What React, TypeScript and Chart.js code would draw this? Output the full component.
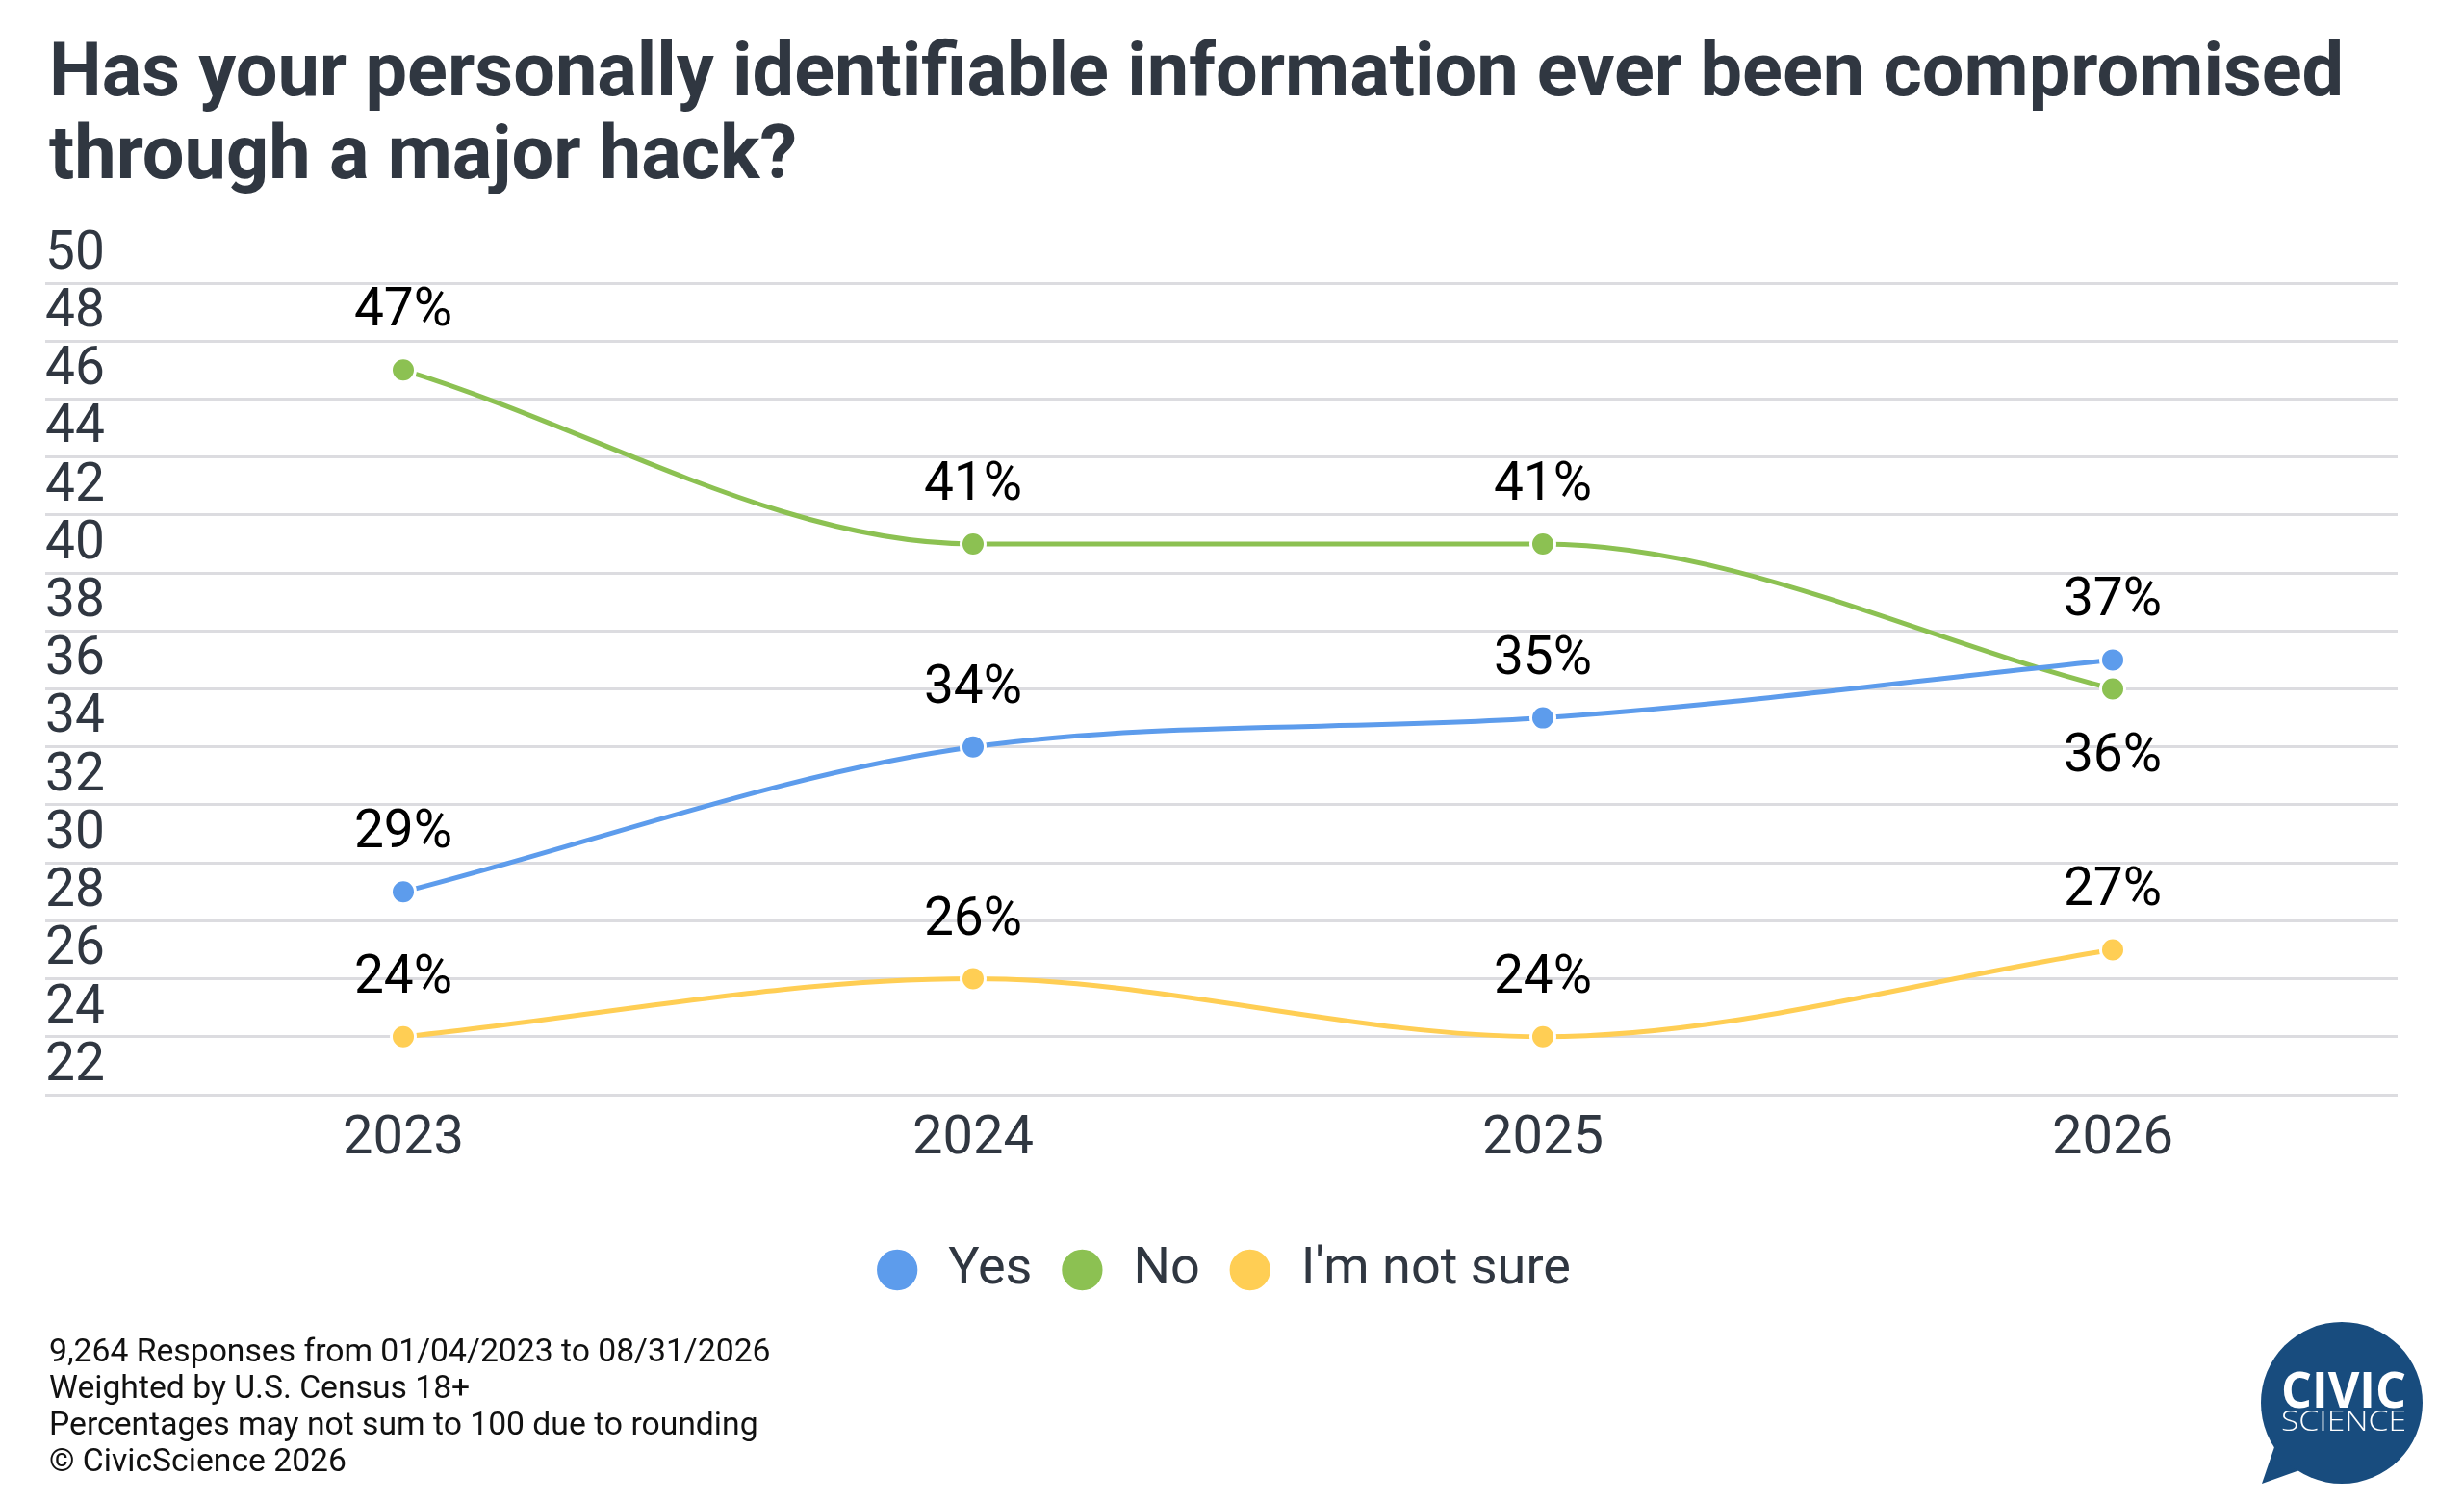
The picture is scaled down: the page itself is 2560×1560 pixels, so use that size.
import React, { useEffect, useRef } from 'react';
import { Chart, registerables, Plugin } from 'chart.js';

Chart.register(...registerables);

const categories = ['2023', '2024', '2025', '2026'];
const yesValues = [29, 34, 35, 37];
const noValues = [47, 41, 41, 36];
const notSureValues = [24, 26, 24, 27];
// which point labels sit under their point instead of above
const noLabelBelow = [false, false, false, true];

const titleLines = [
  'Has your personally identifiable information ever been compromised',
  'through a major hack?',
];
const footerLines = [
  '9,264 Responses from 01/04/2023 to 08/31/2026',
  'Weighted by U.S. Census 18+',
  'Percentages may not sum to 100 due to rounding',
  '\u00A9 CivicScience 2026',
];

const TEXT = '#303741';
const BLUE = '#5D9CEC';
const GREEN = '#8CC152';
const YELLOW = '#FFCE54';

// draws the "47%" style labels next to every point
const pointLabels: Plugin<'line'> = {
  id: 'pointLabels',
  afterDatasetsDraw(chart) {
    const { ctx } = chart;
    ctx.save();
    ctx.font = '55px Roboto';
    ctx.fillStyle = '#000';
    ctx.textAlign = 'center';
    ctx.textBaseline = 'alphabetic';
    chart.data.datasets.forEach((ds: any, i) => {
      const meta = chart.getDatasetMeta(i);
      const below: boolean[] = ds.labelBelow || [];
      meta.data.forEach((pt, j) => {
        const v = ds.data[j] as number;
        const y = below[j] ? pt.y + 85 : pt.y - 46;
        ctx.fillText(`${v}%`, pt.x, y);
      });
    });
    ctx.restore();
  },
};

const series = (label: string, data: number[], color: string, labelBelow: boolean[] = []) => ({
  label,
  data,
  labelBelow,
  borderColor: color,
  backgroundColor: color,
  borderWidth: 5,
  pointRadius: 12.5,
  pointHoverRadius: 12.5,
  pointBackgroundColor: color,
  pointBorderColor: '#ffffff',
  pointBorderWidth: 3,
  cubicInterpolationMode: 'monotone' as const,
  fill: false,
});

const App: React.FC = () => {
  const chartRef = useRef<HTMLCanvasElement>(null);
  const chartInstance = useRef<Chart | null>(null);

  useEffect(() => {
    if (!chartRef.current) return;
    const ctx = chartRef.current.getContext('2d');
    if (!ctx) return;
    if (chartInstance.current) chartInstance.current.destroy();

    chartInstance.current = new Chart(ctx, {
      type: 'line',
      data: {
        labels: categories,
        datasets: [
          series('Yes', yesValues, BLUE),
          series('No', noValues, GREEN, noLabelBelow),
          series("I'm not sure", notSureValues, YELLOW),
        ] as any,
      },
      options: {
        animation: false,
        responsive: true,
        maintainAspectRatio: false,
        devicePixelRatio: 1,
        layout: { padding: { top: 294, left: 47, right: 69, bottom: 204 } },
        scales: {
          x: {
            offset: true,
            grid: { display: false, drawTicks: false },
            border: { display: false },
            ticks: {
              color: TEXT,
              font: { family: 'Roboto', size: 56 },
              padding: 13,
              autoSkip: false,
              maxRotation: 0,
            },
            afterFit(scale) {
              scale.height = 129;
            },
          },
          y: {
            min: 22,
            max: 50,
            border: { display: false },
            grid: { color: '#dcdce0', lineWidth: 3, drawTicks: true, tickLength: 76 },
            ticks: {
              stepSize: 2,
              autoSkip: false,
              color: TEXT,
              font: { family: 'Roboto', size: 55 },
              crossAlign: 'far',
              labelOffset: -29,
              padding: 0,
            },
            afterFit(scale) {
              scale.width = 76;
            },
          },
        },
        plugins: {
          title: { display: false },
          tooltip: { enabled: false },
          legend: {
            position: 'bottom',
            labels: {
              usePointStyle: true,
              pointStyle: 'circle',
              boxWidth: 52,
              boxHeight: 32,
              padding: 26,
              color: TEXT,
              font: { family: 'Roboto', size: 54 },
            },
          },
        },
      },
      plugins: [pointLabels],
    });

    return () => {
      if (chartInstance.current) {
        chartInstance.current.destroy();
        chartInstance.current = null;
      }
    };
  }, []);

  return (
    <div
      style={{
        position: 'fixed',
        left: 0,
        top: 0,
        width: 2560,
        height: 1560,
        background: '#ffffff',
        overflow: 'hidden',
      }}
    >
      <div style={{ position: 'absolute', left: 0, top: 0, width: 2560, height: 1560 }}>
        <canvas ref={chartRef} />
      </div>
      <div
        style={{
          position: 'absolute',
          left: 51,
          top: 30,
          fontFamily: 'Roboto',
          fontWeight: 700,
          fontSize: 77.5,
          lineHeight: '86px',
          color: TEXT,
          whiteSpace: 'nowrap',
        }}
      >
        {titleLines.map((t) => (
          <div key={t}>{t}</div>
        ))}
      </div>
      <div
        style={{
          position: 'absolute',
          left: 51,
          top: 1384,
          fontFamily: 'Roboto',
          fontSize: 33.7,
          lineHeight: '38px',
          color: '#111111',
          whiteSpace: 'nowrap',
        }}
      >
        {footerLines.map((t) => (
          <div key={t}>{t}</div>
        ))}
      </div>
      <svg
        style={{ position: 'absolute', left: 2330, top: 1360 }}
        width={210}
        height={195}
        viewBox="2330 1360 210 195"
      >
        <polygon points="2364,1500 2350,1541 2392,1526" fill="#184c7e" />
        <circle cx={2433} cy={1457} r={84} fill="#184c7e" />
        <text
          x={2370}
          y={1462}
          textLength={130}
          lengthAdjust="spacingAndGlyphs"
          fill="#ffffff"
          fontFamily="Open Sans"
          fontWeight={700}
          fontSize={52}
        >
          CIVIC
        </text>
        <text
          x={2370}
          y={1486}
          textLength={130}
          lengthAdjust="spacingAndGlyphs"
          fill="#ffffff"
          fontFamily="Open Sans"
          fontWeight={300}
          fontSize={30}
        >
          SCIENCE
        </text>
      </svg>
    </div>
  );
};

export default App;
